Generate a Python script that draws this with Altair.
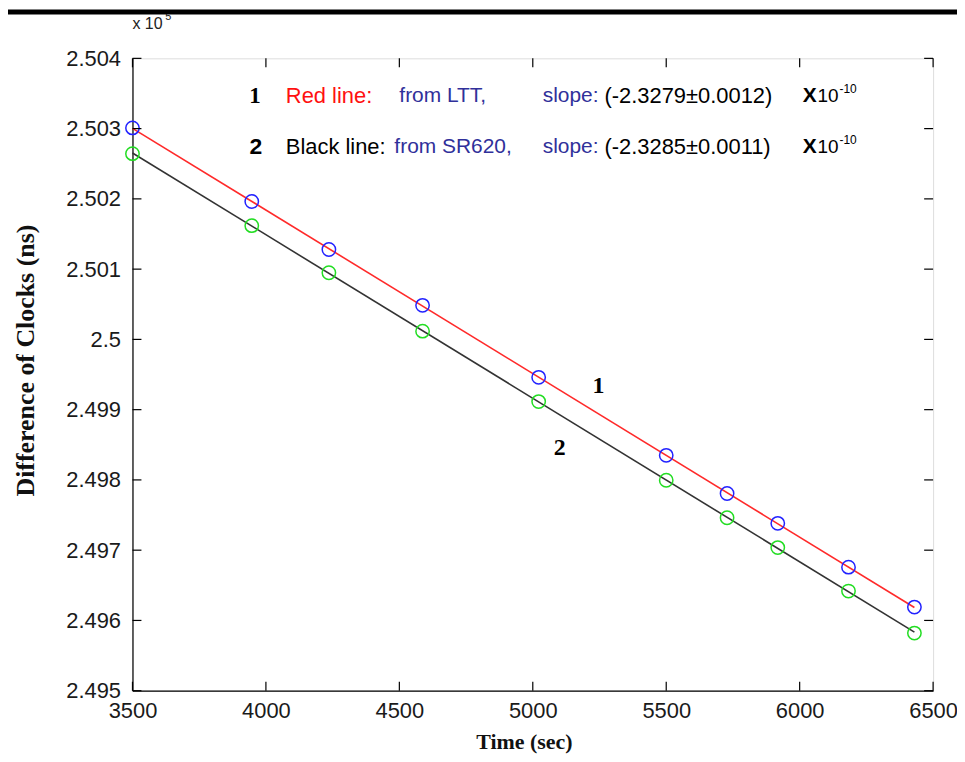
import altair as alt
import pandas as pd

# ---- data ----
time_s = [3500, 3947, 4236, 4587, 5022, 5500, 5728, 5918, 6183, 6430]
ltt_vals = [2.50301, 2.501963, 2.501279, 2.500485, 2.49946, 2.49835, 2.497807, 2.497382, 2.496758, 2.49619]
sr620_vals = [2.502644, 2.501619, 2.500949, 2.500117, 2.499115, 2.497995, 2.497462, 2.497037, 2.496418, 2.49582]
x_ticks = [3500, 4000, 4500, 5000, 5500, 6000, 6500]
y_ticks = [2.495, 2.496, 2.497, 2.498, 2.499, 2.5, 2.501, 2.502, 2.503, 2.504]

W, H = 804, 635
ltt = pd.DataFrame({"t": time_s, "v": ltt_vals})
sr = pd.DataFrame({"t": time_s, "v": sr620_vals})
xt = pd.DataFrame({"t": x_ticks})
yt = pd.DataFrame({"v": y_ticks})

xs = alt.Scale(domain=[3500, 6500], nice=False, zero=False)
ys = alt.Scale(domain=[2.495, 2.504], nice=False, zero=False)

x_axis = alt.Axis(values=x_ticks, format="d", ticks=False, grid=False,
                  labelFont="Liberation Sans", labelFontSize=22, labelColor="#1a1a1a",
                  labelPadding=10, labelFlush=False, labelOverlap=False,
                  domainColor="black", domainWidth=1.2,
                  title="Time (sec)", titleFont="Liberation Serif", titleFontSize=22,
                  titleFontWeight="bold", titleColor="#111111",
                  titleX=393, titleY=51, titleAlign="center", titleBaseline="middle")
y_axis = alt.Axis(values=y_ticks, format=".3~f", ticks=False, grid=False,
                  labelFont="Liberation Sans", labelFontSize=22, labelColor="#1a1a1a",
                  labelPadding=12, labelFlush=False, labelOverlap=False,
                  domainColor="black", domainWidth=1.2,
                  title="Difference of Clocks (ns)", titleFont="Liberation Serif",
                  titleFontSize=26, titleFontWeight="bold", titleColor="#111111",
                  titleAngle=270, titleX=-107, titleY=303,
                  titleAlign="center", titleBaseline="middle")

X = alt.X("t:Q", scale=xs, axis=x_axis)
Y = alt.Y("v:Q", scale=ys, axis=y_axis)

line_ltt = alt.Chart(ltt).transform_regression("t", "v").mark_line(
    color="#ff2a2a", strokeWidth=1.6).encode(x=X, y=Y)
line_sr = alt.Chart(sr).transform_regression("t", "v").mark_line(
    color="#333333", strokeWidth=1.6).encode(x=X, y=Y)

pts_ltt = alt.Chart(ltt).mark_point(shape="circle", filled=False, size=180,
                                    strokeWidth=1.5, color="#2222ff", opacity=1).encode(x=X, y=Y)
pts_sr = alt.Chart(sr).mark_point(shape="circle", filled=False, size=180,
                                  strokeWidth=1.5, color="#22dd22", opacity=1).encode(x=X, y=Y)

TL = 9
ticks = [
    alt.Chart(xt).mark_rule(color="black", strokeWidth=1.2).encode(
        x=X, y=alt.value(H), y2=alt.value(H - TL)),
    alt.Chart(xt).mark_rule(color="black", strokeWidth=1.2).encode(
        x=X, y=alt.value(0), y2=alt.value(TL)),
    alt.Chart(yt).mark_rule(color="black", strokeWidth=1.2).encode(
        y=Y, x=alt.value(0), x2=alt.value(TL)),
    alt.Chart(yt).mark_rule(color="black", strokeWidth=1.2).encode(
        y=Y, x=alt.value(W), x2=alt.value(W - TL)),
]


def txt(s, x, y, size=21, color="black", font="Liberation Sans", weight="normal", align="left"):
    return alt.Chart(alt.Data(values=[{"k": 0}])).mark_text(
        text=s, align=align, baseline="middle", font=font, fontSize=size,
        fontWeight=weight, color=color).encode(x=alt.value(x), y=alt.value(y))


BLUE = "#30309a"
r1, r2 = 38, 89.5
texts = [
    txt("1", 123, r1, size=23, font="Liberation Serif", weight="bold", align="center"),
    txt("Red line:", 154, r1, color="#ff1010", size=22),
    txt("from LTT,", 268, r1, color=BLUE),
    txt("slope:", 412, r1, color=BLUE),
    txt("(-2.3279\u00b10.0012)", 474, r1, size=22),
    txt("X", 673, r1, size=21, weight="bold"),
    txt("10", 688, r1, size=19),
    txt("-10", 710, r1 - 7, size=12),
    txt("2", 124, r2, size=23, weight="bold", align="center"),
    txt("Black line:", 154, r2, size=22),
    txt("from SR620,", 263, r2, color=BLUE),
    txt("slope:", 412, r2, color=BLUE),
    txt("(-2.3285\u00b10.0011)", 474, r2, size=22),
    txt("X", 673, r2, size=21, weight="bold"),
    txt("10", 688, r2, size=19),
    txt("-10", 710, r2 - 7, size=12),
    txt("1", 468, 329, size=24, font="Liberation Serif", weight="bold", align="center"),
    txt("2", 429, 391, size=24, font="Liberation Serif", weight="bold", align="center"),
    txt("x 10", 0, -34, size=16, color="#222222"),
    txt("5", 33, -42, size=11, color="#222222"),
]

top_bar = alt.Chart(alt.Data(values=[{"k": 0}])).mark_rule(
    color="black", strokeWidth=5).encode(
    x=alt.value(-125), x2=alt.value(W + 24), y=alt.value(-46.5))

chart = alt.layer(line_ltt, line_sr, pts_ltt, pts_sr, *ticks, *texts, top_bar).properties(
    width=W, height=H,
    padding={"left": 125, "top": 49, "right": 24, "bottom": 62},
    autosize=alt.AutoSizeParams(type="none"),
).configure_view(stroke="black", strokeWidth=1.2).configure(background="white")

chart.save("out.html", embed_options={"renderer": "svg", "actions": False})
